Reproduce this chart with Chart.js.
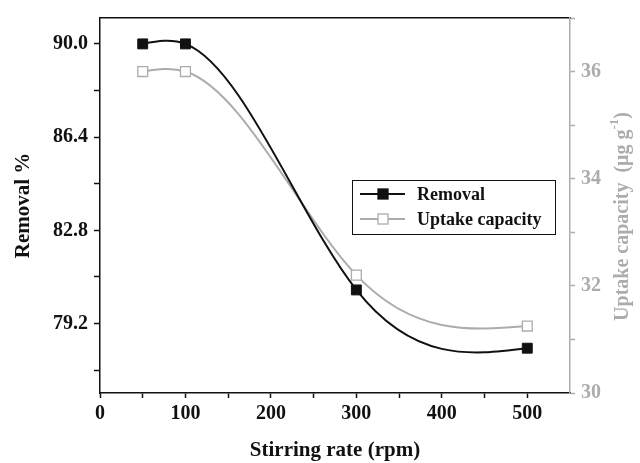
<!DOCTYPE html>
<html>
<head>
<meta charset="utf-8">
<script src="https://cdn.jsdelivr.net/npm/chart.js@4"></script>
<style>
  body { margin: 0; background: #fff; }
  canvas { display: block; }
</style>
</head>
<body>
<canvas id="stirring-chart" width="640" height="463"></canvas>
<script>
// stirring rate experiment
var stirringRate = [50, 100, 300, 500];
var removal = [90.0, 90.0, 80.5, 78.25];
var uptake = [36.0, 36.0, 32.2, 31.25];

var xTicks = [0, 50, 100, 150, 200, 250, 300, 350, 400, 450, 500];
var removalTicks = [77.4, 79.2, 81.0, 82.8, 84.6, 86.4, 88.2, 90.0];
var removalLabels = ["79.2", "82.8", "86.4", "90.0"];
var uptakeTicks = [30, 31, 32, 33, 34, 35, 36, 37];
var uptakeLabels = ["30", "32", "34", "36"];

var serif = "'Liberation Serif', 'Times New Roman', serif";
var black = "#111111";
var grey = "#acacac";

function points(ys) {
  return stirringRate.map(function(x, i) { return {x: x, y: ys[i]}; });
}

function fixedTicks(list) {
  return function(scale) {
    scale.ticks = list.map(function(v) { return {value: v}; });
  };
}

function labelIf(list) {
  return function(value) {
    var a = String(value), b = value.toFixed(1);
    if (list.indexOf(a) >= 0) return a;
    if (list.indexOf(b) >= 0) return b;
    return "";
  };
}

// natural cubic spline through the line's points, written into the
// bezier control points so Chart.js strokes the curve itself
var naturalSpline = {
  id: "naturalSpline",
  beforeDatasetDraw: function(chart, args) {
    var line = args.meta.dataset;
    var pts = args.meta.data;
    var n = pts.length;
    if (n < 3) return;
    line.updateControlPoints(chart.chartArea, "x");
    var h = [], s = [];
    for (var i = 0; i < n - 1; i++) {
      h.push(pts[i + 1].x - pts[i].x);
      s.push((pts[i + 1].y - pts[i].y) / h[i]);
    }
    // tridiagonal solve for second derivatives, M0 = Mn-1 = 0
    var M = new Array(n).fill(0);
    var a = [], b = [], c = [], d = [];
    for (i = 1; i < n - 1; i++) {
      a.push(h[i - 1]);
      b.push(2 * (h[i - 1] + h[i]));
      c.push(h[i]);
      d.push(6 * (s[i] - s[i - 1]));
    }
    var m = b.length;
    for (i = 1; i < m; i++) {
      var w = a[i] / b[i - 1];
      b[i] -= w * c[i - 1];
      d[i] -= w * d[i - 1];
    }
    var sol = new Array(m);
    sol[m - 1] = d[m - 1] / b[m - 1];
    for (i = m - 2; i >= 0; i--) sol[i] = (d[i] - c[i] * sol[i + 1]) / b[i];
    for (i = 0; i < m; i++) M[i + 1] = sol[i];
    for (i = 0; i < n - 1; i++) {
      var k0 = s[i] - h[i] * (2 * M[i] + M[i + 1]) / 6;
      var k1 = s[i] + h[i] * (M[i] + 2 * M[i + 1]) / 6;
      pts[i].cp2x = pts[i].x + h[i] / 3;
      pts[i].cp2y = pts[i].y + k0 * h[i] / 3;
      pts[i + 1].cp1x = pts[i + 1].x - h[i] / 3;
      pts[i + 1].cp1y = pts[i + 1].y - k1 * h[i] / 3;
    }
    delete line._path;
  }
};

// boxed legend with line-marker-line symbols, plus the right axis title
var decorations = {
  id: "decorations",
  afterDraw: function(chart) {
    var ctx = chart.ctx;
    var x0 = 352, y0 = 180, w = 203, h = 54;
    ctx.save();
    ctx.fillStyle = "#fff";
    ctx.fillRect(x0, y0, w, h);
    ctx.strokeStyle = black;
    ctx.lineWidth = 1;
    ctx.strokeRect(x0 + 0.5, y0 + 0.5, w, h);
    chart.data.datasets.forEach(function(ds, i) {
      var y = y0 + 14 + i * 25;
      ctx.strokeStyle = ds.borderColor;
      ctx.lineWidth = 2;
      ctx.beginPath();
      ctx.moveTo(x0 + 8, y);
      ctx.lineTo(x0 + 53, y);
      ctx.stroke();
      ctx.fillStyle = ds.pointBackgroundColor;
      ctx.fillRect(x0 + 26, y - 5, 10, 10);
      ctx.strokeStyle = ds.pointBorderColor;
      ctx.lineWidth = 1.3;
      ctx.strokeRect(x0 + 26, y - 5, 10, 10);
      ctx.fillStyle = black;
      ctx.font = "bold 18px " + serif;
      ctx.textBaseline = "middle";
      ctx.fillText(ds.label, x0 + 65, y + 1);
    });

    // "Uptake capacity  (μg g-1)" reading bottom to top
    var area = chart.chartArea;
    var parts = [
      {t: "Uptake capacity  (\u03bcg g", size: 20, dy: 0},
      {t: "-1", size: 13, dy: -8},
      {t: ")", size: 20, dy: 0}
    ];
    var total = 0;
    parts.forEach(function(p) {
      ctx.font = "bold " + p.size + "px " + serif;
      p.w = ctx.measureText(p.t).width;
      total += p.w;
    });
    ctx.translate(622, (area.top + area.bottom) / 2 + 11);
    ctx.rotate(-Math.PI / 2);
    ctx.fillStyle = grey;
    ctx.textBaseline = "middle";
    ctx.textAlign = "left";
    var x = -total / 2;
    parts.forEach(function(p) {
      ctx.font = "bold " + p.size + "px " + serif;
      ctx.fillText(p.t, x, 1 + p.dy);
      x += p.w;
    });
    ctx.restore();
  }
};

var ctx = document.getElementById("stirring-chart").getContext("2d");
var chart = new Chart(ctx, {
  type: "line",
  data: {
    datasets: [
      {
        label: "Removal",
        data: points(removal),
        yAxisID: "yRemoval",
        borderColor: black,
        borderWidth: 2,
        tension: 0.4,
        pointStyle: "rect",
        pointRadius: 7,
        pointBackgroundColor: black,
        pointBorderColor: black,
        pointBorderWidth: 1
      },
      {
        label: "Uptake capacity",
        data: points(uptake),
        yAxisID: "yUptake",
        borderColor: grey,
        borderWidth: 2,
        tension: 0.4,
        pointStyle: "rect",
        pointRadius: 7,
        pointBackgroundColor: "#ffffff",
        pointBorderColor: grey,
        pointBorderWidth: 1.3
      }
    ]
  },
  options: {
    responsive: false,
    animation: false,
    layout: { padding: 0 },
    plugins: { legend: { display: false }, tooltip: { enabled: false } },
    scales: {
      x: {
        type: "linear",
        position: "bottom",
        min: 0,
        max: 550,
        afterBuildTicks: fixedTicks(xTicks),
        afterFit: function(s) { s.height = 70; },
        grid: { drawOnChartArea: false, tickLength: 5, tickWidth: 1.5, tickColor: black },
        border: { color: black, width: 1.5 },
        ticks: {
          color: black,
          padding: 4,
          maxRotation: 0,
          font: { family: serif, weight: "bold", size: 20 },
          callback: function(v) { return v % 100 === 0 ? String(v) : ""; }
        },
        title: {
          display: true,
          text: "Stirring rate (rpm)",
          color: black,
          padding: { top: 0, bottom: 0 },
          font: { family: serif, weight: "bold", size: 21 }
        }
      },
      xTop: {
        type: "linear",
        position: "top",
        min: 0,
        max: 550,
        afterFit: function(s) { s.height = 11; },
        grid: { drawOnChartArea: false, drawTicks: false },
        border: { color: black, width: 1.5 },
        ticks: { display: false }
      },
      yRemoval: {
        type: "linear",
        position: "left",
        min: 76.52,
        max: 91.0,
        afterBuildTicks: fixedTicks(removalTicks),
        afterFit: function(s) { s.width = 100; },
        grid: { drawOnChartArea: false, tickLength: 6, tickWidth: 1.5, tickColor: black },
        border: { color: black, width: 1.5 },
        ticks: {
          color: black,
          padding: 6,
          font: { family: serif, weight: "bold", size: 20 },
          callback: labelIf(removalLabels)
        },
        title: {
          display: true,
          text: "Removal %",
          color: black,
          padding: { top: 11, bottom: 0 },
          font: { family: serif, weight: "bold", size: 21 }
        }
      },
      yUptake: {
        type: "linear",
        position: "right",
        min: 30,
        max: 37,
        afterBuildTicks: fixedTicks(uptakeTicks),
        afterFit: function(s) { s.width = 70; },
        grid: { drawOnChartArea: false, tickLength: 5, tickWidth: 1.5, tickColor: grey },
        border: { color: grey, width: 1.5, dash: [6, 4] },
        ticks: {
          color: grey,
          padding: 6,
          font: { family: serif, weight: "bold", size: 20 },
          callback: labelIf(uptakeLabels)
        },
        title: { display: false }
      }
    }
  },
  plugins: [naturalSpline, decorations]
});
</script>
</body>
</html>
